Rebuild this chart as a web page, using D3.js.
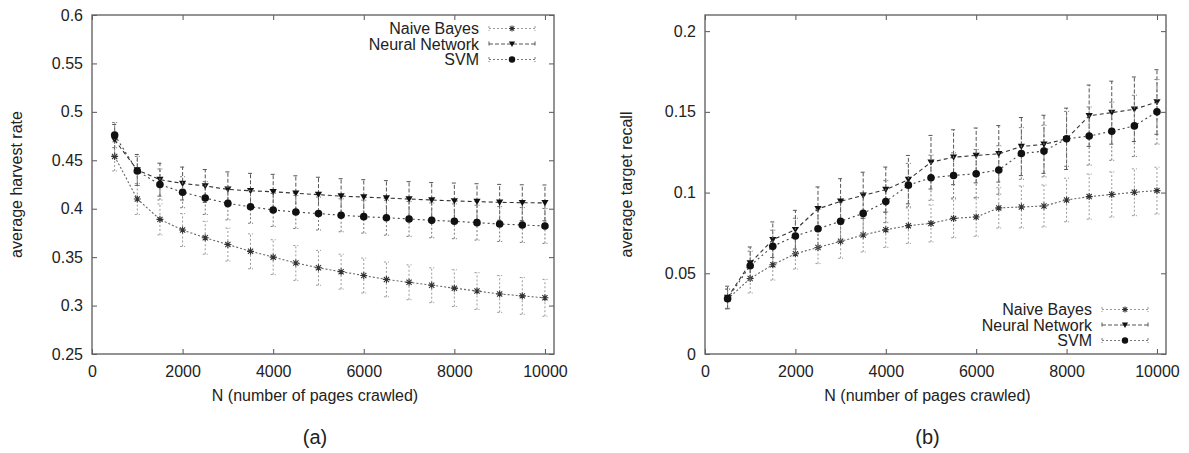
<!DOCTYPE html>
<html>
<head>
<meta charset="utf-8">
<script src="https://cdn.jsdelivr.net/npm/d3@7"></script>
<style>
  body { margin: 0; background: #fff; }
  svg text { font-family: "Liberation Sans", Arial, sans-serif; fill: #222; }
</style>
</head>
<body>
<svg id="chart" width="1189" height="453"></svg>
<script>
// pages crawled
var nPages = [500, 1000, 1500, 2000, 2500, 3000, 3500, 4000, 4500, 5000,
              5500, 6000, 6500, 7000, 7500, 8000, 8500, 9000, 9500, 10000];

// (a) average harvest rate
var harvestNB  = [0.454, 0.410, 0.389, 0.378, 0.370, 0.363, 0.356, 0.350, 0.344, 0.339,
                  0.335, 0.331, 0.327, 0.324, 0.321, 0.318, 0.315, 0.312, 0.310, 0.308];
var harvestNN  = [0.471, 0.440, 0.430, 0.426, 0.4235, 0.420, 0.4185, 0.4175, 0.416, 0.4145,
                  0.413, 0.412, 0.411, 0.410, 0.409, 0.408, 0.4073, 0.4066, 0.4062, 0.406];
var harvestSVM = [0.476, 0.439, 0.425, 0.417, 0.411, 0.4055, 0.402, 0.3987, 0.3966, 0.395,
                  0.3932, 0.3918, 0.3907, 0.3894, 0.388, 0.387, 0.3856, 0.3842, 0.3832, 0.3822];
var harvestErrNB  = [0.015, 0.016, 0.016, 0.017, 0.017, 0.017, 0.018, 0.018, 0.018, 0.018,
                     0.018, 0.018, 0.018, 0.018, 0.018, 0.019, 0.019, 0.019, 0.019, 0.019];
var harvestErrNN  = [0.016, 0.016, 0.017, 0.017, 0.017, 0.018, 0.018, 0.018, 0.018, 0.018,
                     0.018, 0.018, 0.018, 0.018, 0.018, 0.0185, 0.0185, 0.0185, 0.0185, 0.0185];
var harvestErrSVM = [0.013, 0.015, 0.016, 0.016, 0.017, 0.017, 0.017, 0.017, 0.017, 0.017,
                     0.017, 0.017, 0.018, 0.018, 0.018, 0.018, 0.018, 0.018, 0.018, 0.018];

// (b) average target recall
var recallNB  = [0.034, 0.0468, 0.0553, 0.0621, 0.066, 0.0698, 0.0737, 0.077, 0.0795, 0.0809,
                 0.084, 0.0849, 0.0905, 0.0911, 0.0917, 0.0954, 0.0975, 0.0988, 0.1002, 0.1012];
var recallNN  = [0.035, 0.0563, 0.0708, 0.077, 0.0899, 0.0946, 0.0983, 0.1018, 0.108, 0.1188,
                 0.1219, 0.123, 0.124, 0.1285, 0.1299, 0.1333, 0.1476, 0.1495, 0.1516, 0.1561];
var recallSVM = [0.0343, 0.0547, 0.0667, 0.0731, 0.0776, 0.0822, 0.0871, 0.0944, 0.1046, 0.1092,
                 0.1106, 0.1117, 0.114, 0.1242, 0.1257, 0.1333, 0.135, 0.138, 0.1413, 0.150];
var recallErrNB  = [0.006, 0.009, 0.0095, 0.0095, 0.010, 0.0105, 0.0105, 0.011, 0.011, 0.0115,
                    0.012, 0.012, 0.0125, 0.013, 0.013, 0.0135, 0.014, 0.014, 0.0145, 0.0145];
var recallErrNN  = [0.007, 0.010, 0.011, 0.012, 0.0136, 0.014, 0.0143, 0.014, 0.015, 0.0166,
                    0.017, 0.017, 0.0175, 0.018, 0.018, 0.019, 0.019, 0.0195, 0.020, 0.020];
var recallErrSVM = [0.006, 0.009, 0.010, 0.011, 0.012, 0.012, 0.0125, 0.013, 0.0135, 0.014,
                    0.014, 0.015, 0.015, 0.016, 0.016, 0.017, 0.018, 0.018, 0.019, 0.020];

var seriesNames = ["Naive Bayes", "Neural Network", "SVM"];
var xTicks = [0, 2000, 4000, 6000, 8000, 10000];
var harvestTicks = [0.25, 0.3, 0.35, 0.4, 0.45, 0.5, 0.55, 0.6];
var recallTicks = [0, 0.05, 0.1, 0.15, 0.2];

// line styles per series (gnuplot look)
var styles = [
  { line: "#666", dash: "2,2", bar: "#999", barDash: "2,2", marker: "star" },
  { line: "#333", dash: "4,3", bar: "#555", barDash: "4,2", marker: "tri" },
  { line: "#444", dash: "2,3", bar: "#777", barDash: "2,2", marker: "dot" }
];

var svg = d3.select("#chart");

function drawMarker(g, kind, cx, cy, k) {
  k = k || 1;
  if (kind == "dot") {
    g.append("circle").attr("cx", cx).attr("cy", cy).attr("r", 3.8 * k).attr("fill", "#111");
  } else if (kind == "tri") {
    g.append("path")
      .attr("d", "M" + (cx - 3.6 * k) + "," + (cy - 2.8 * k) + "L" + (cx + 3.6 * k) + "," + (cy - 2.8 * k) + "L" + cx + "," + (cy + 3.4 * k) + "Z")
      .attr("fill", "#111");
  } else {
    var s = 3.5 * k, d = 2.6 * k;
    g.append("path")
      .attr("d", "M" + (cx - s) + "," + cy + "H" + (cx + s) + "M" + cx + "," + (cy - s) + "V" + (cy + s) +
                 "M" + (cx - d) + "," + (cy - d) + "L" + (cx + d) + "," + (cy + d) +
                 "M" + (cx - d) + "," + (cy + d) + "L" + (cx + d) + "," + (cy - d))
      .attr("stroke", "#333").attr("stroke-width", 1.1).attr("fill", "none");
  }
}

function drawPanel(p) {
  var g = svg.append("g");
  var x = d3.scaleLinear().domain([0, 10200]).range([p.left, p.right]);
  var y = d3.scaleLinear().domain(p.yDomain).range([p.bottom, p.top]);

  // axes, ticks inward on all four sides
  g.append("g").attr("transform", "translate(0," + p.bottom + ")")
    .call(d3.axisBottom(x).tickValues(xTicks).tickSize(-5).tickPadding(12).tickFormat(d3.format("d")))
    .call(function(a) { a.select(".domain").remove(); })
    .selectAll("text").style("font-size", "16px").style("font-family", "Liberation Sans, Arial, sans-serif");
  g.append("g").attr("transform", "translate(0," + p.top + ")")
    .call(d3.axisTop(x).tickValues(xTicks).tickSize(-5).tickFormat(""))
    .call(function(a) { a.select(".domain").remove(); });
  g.append("g").attr("transform", "translate(" + p.left + ",0)")
    .call(d3.axisLeft(y).tickValues(p.yTicks).tickSize(-5).tickPadding(9).tickFormat(function(d) { return String(+d.toFixed(2)); }))
    .call(function(a) { a.select(".domain").remove(); })
    .selectAll("text").style("font-size", "16px").style("font-family", "Liberation Sans, Arial, sans-serif");
  g.append("g").attr("transform", "translate(" + p.right + ",0)")
    .call(d3.axisRight(y).tickValues(p.yTicks).tickSize(-5).tickFormat(""))
    .call(function(a) { a.select(".domain").remove(); });
  g.selectAll(".tick line").attr("stroke", "#555");

  g.append("rect")
    .attr("x", p.left).attr("y", p.top)
    .attr("width", p.right - p.left).attr("height", p.bottom - p.top)
    .attr("fill", "none").attr("stroke", "#666").attr("stroke-width", 1.4);

  // series: error bars, line, markers
  p.series.forEach(function(vals, i) {
    var st = styles[i];
    var errs = p.errors[i];
    var bars = g.append("g");
    nPages.forEach(function(n, j) {
      var px = x(n), y0 = y(vals[j] - errs[j]), y1 = y(vals[j] + errs[j]);
      bars.append("path")
        .attr("d", "M" + px + "," + y0 + "V" + y1 + "M" + (px - 2.5) + "," + y0 + "H" + (px + 2.5) + "M" + (px - 2.5) + "," + y1 + "H" + (px + 2.5))
        .attr("stroke", st.bar).attr("stroke-width", 1).attr("stroke-dasharray", st.barDash).attr("fill", "none");
    });
    var line = d3.line().x(function(d, j) { return x(nPages[j]); }).y(function(d) { return y(d); });
    g.append("path").datum(vals).attr("d", line)
      .attr("fill", "none").attr("stroke", st.line).attr("stroke-width", 1.1).attr("stroke-dasharray", st.dash);
    var mk = g.append("g");
    nPages.forEach(function(n, j) { drawMarker(mk, st.marker, x(n), y(vals[j])); });
  });

  // legend
  seriesNames.forEach(function(name, i) {
    var st = styles[i];
    var ly = p.legendY + i * 15.5;
    g.append("text").attr("x", p.legendX).attr("y", ly).attr("dy", "0.35em")
      .attr("text-anchor", "end").style("font-size", "16px").text(name);
    var x1 = p.legendX + 10, x2 = p.legendX + 56, xm = (x1 + x2) / 2;
    g.append("path")
      .attr("d", "M" + x1 + "," + ly + "H" + x2 + "M" + x1 + "," + (ly - 2.5) + "V" + (ly + 2.5) + "M" + x2 + "," + (ly - 2.5) + "V" + (ly + 2.5))
      .attr("stroke", st.bar).attr("stroke-width", 1).attr("stroke-dasharray", st.barDash).attr("fill", "none");
    drawMarker(g, st.marker, xm, ly, 0.85);
  });

  // axis titles
  g.append("text")
    .attr("transform", "translate(" + p.yLabelX + "," + ((p.top + p.bottom) / 2) + ") rotate(-90)")
    .attr("text-anchor", "middle").style("font-size", "16px").text(p.yLabel);
  g.append("text").attr("x", (p.left + p.right) / 2 - 8).attr("y", 401)
    .attr("text-anchor", "middle").style("font-size", "16px").text("N (number of pages crawled)");
  g.append("text").attr("x", (p.left + p.right) / 2 - 8).attr("y", 444)
    .attr("text-anchor", "middle").style("font-size", "20px").text(p.caption);
}

drawPanel({
  left: 92, right: 554, top: 15, bottom: 354,
  yDomain: [0.25, 0.6], yTicks: harvestTicks,
  series: [harvestNB, harvestNN, harvestSVM],
  errors: [harvestErrNB, harvestErrNN, harvestErrSVM],
  legendX: 479, legendY: 28.5,
  yLabel: "average harvest rate", yLabelX: 22, caption: "(a)"
});

drawPanel({
  left: 705, right: 1166, top: 15, bottom: 354,
  yDomain: [0, 0.21], yTicks: recallTicks,
  series: [recallNB, recallNN, recallSVM],
  errors: [recallErrNB, recallErrNN, recallErrSVM],
  legendX: 1092, legendY: 309.5,
  yLabel: "average target recall", yLabelX: 632, caption: "(b)"
});
</script>
</body>
</html>
